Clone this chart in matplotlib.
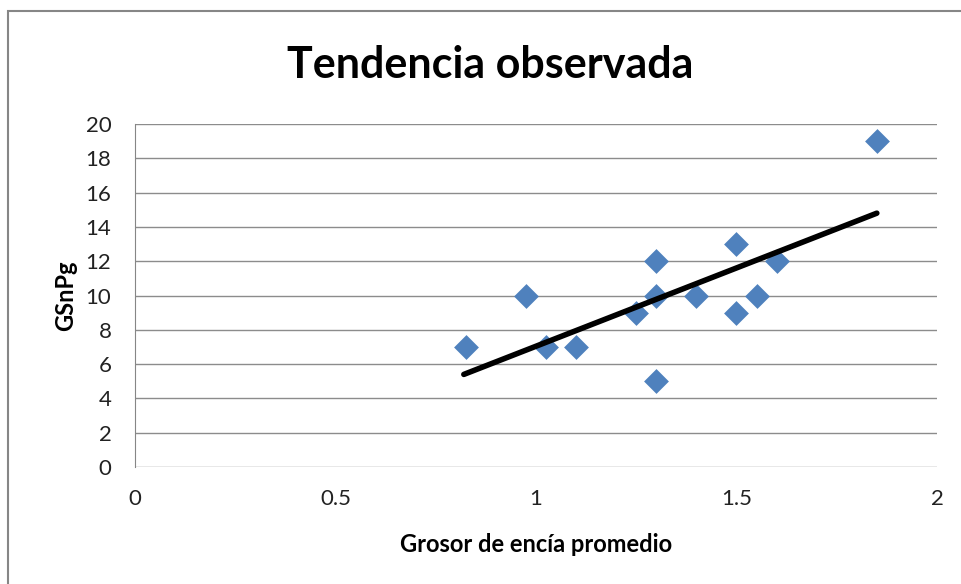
import numpy as np
import matplotlib
matplotlib.use('Agg')
import matplotlib.pyplot as plt
from matplotlib.patches import Rectangle

plt.rcParams['font.family'] = ['Lato', 'DejaVu Sans']

# data
grosor = [0.825, 0.975, 1.025, 1.1, 1.25, 1.3, 1.3, 1.3, 1.4, 1.5, 1.5, 1.55, 1.6, 1.85]
gsnpg = [7, 10, 7, 7, 9, 12, 10, 5, 10, 13, 9, 10, 12, 19]
trend_x = [0.82, 1.85]
trend_y = [5.4, 14.8]
x_ticks = [0, 0.5, 1, 1.5, 2]
x_labels = ['0', '0.5', '1', '1.5', '2']
y_ticks = list(range(0, 21, 2))

fig = plt.figure(figsize=(9.61, 5.84), dpi=100)
ax = fig.add_axes([0.1405, 0.2003, 0.8345, 0.5874])

ax.scatter(grosor, gsnpg, marker='D', s=160, color='#4F81BD', zorder=3, linewidths=0)
ax.plot(trend_x, trend_y, color='black', linewidth=4, solid_capstyle='round', zorder=4)

ax.set_xlim(0, 2)
ax.set_ylim(0, 20)
ax.set_xticks(x_ticks)
ax.set_xticklabels(x_labels)
ax.set_yticks(y_ticks)
ax.tick_params(axis='both', labelsize=16, colors='#222222')
ax.tick_params(axis='x', length=0, pad=16)
ax.tick_params(axis='y', length=0, pad=17)
ax.yaxis.grid(True, color='#8c8c8c', linewidth=1)
ax.set_axisbelow(True)
for side in ['top', 'right', 'bottom']:
    ax.spines[side].set_visible(False)
ax.spines['left'].set_color('#868686')

ax.set_xlabel('Grosor de encía promedio', fontsize=17, fontweight='bold', labelpad=17)
ax.set_ylabel('GSnPg', fontsize=17, fontweight='bold', labelpad=6)
fig.text(0.51, 1 - 78 / 584, 'Tendencia observada', fontsize=31, fontweight='bold',
         ha='center', va='baseline')

# chart frame (right and bottom edges fall outside the image)
fig.patches.append(Rectangle((8 / 961, -0.05), 1.05, 1.05 - 11 / 584, transform=fig.transFigure,
                             fill=False, edgecolor='#868686', linewidth=1.5))

fig.savefig('out.png', dpi=100)
